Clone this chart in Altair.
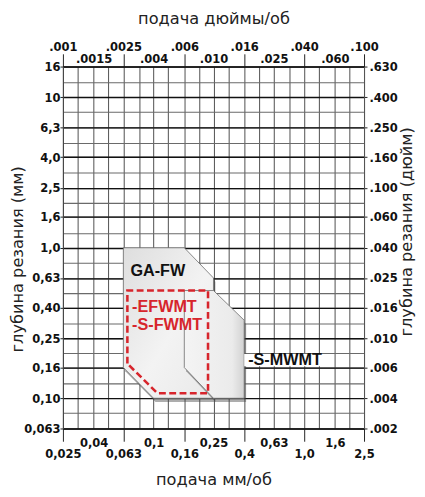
import json
import altair as alt
import pandas as pd

# ---------------- data ----------------
x_mm_values = [0.025, 0.04, 0.063, 0.1, 0.16, 0.25, 0.4, 0.63, 1.0, 1.6, 2.5]
x_mm_labels = ["0,025", "0,04", "0,063", "0,1", "0,16", "0,25", "0,4", "0,63", "1,0", "1,6", "2,5"]
x_in_labels = [".001", ".0015", ".0025", ".004", ".006", ".010", ".016", ".025", ".040", ".060", ".100"]

y_mm_values = [0.063, 0.10, 0.16, 0.25, 0.40, 0.63, 1.0, 1.6, 2.5, 4.0, 6.3, 10, 16]
y_mm_labels = ["0,063", "0,10", "0,16", "0,25", "0,40", "0,63", "1,0", "1,6", "2,5", "4,0", "6,3", "10", "16"]
y_in_labels = [".002", ".004", ".006", ".010", ".016", ".025", ".040", ".060", ".100", ".160", ".250", ".400", ".630"]

grid_x = [0.025, 0.0315, 0.04, 0.05, 0.063, 0.08, 0.1, 0.125, 0.16, 0.2, 0.25,
          0.315, 0.4, 0.5, 0.63, 0.8, 1.0, 1.25, 1.6, 2.0, 2.5]
grid_y = [0.063, 0.08, 0.1, 0.125, 0.16, 0.2, 0.25, 0.315, 0.4, 0.5, 0.63, 0.8,
          1.0, 1.25, 1.6, 2.0, 2.5, 3.15, 4.0, 5.0, 6.3, 8.0, 10, 12.5, 16]

# GA-FW area (feed, upper depth, lower depth)
gafw_feed = [0.063, 0.1, 0.16, 0.25]
gafw_top = [1.0, 1.0, 1.0, 0.63]
gafw_bottom = [0.16, 0.1, 0.1, 0.1]

# -S-MWMT area
mwmt_feed = [0.16, 0.25, 0.4]
mwmt_top = [0.52, 0.52, 0.33]
mwmt_bottom = [0.16, 0.1, 0.1]

# -EFWMT / -S-FWMT dashed outline (closed path)
efw_feed = [0.067, 0.067, 0.23, 0.23, 0.106, 0.067]
efw_depth = [0.17, 0.52, 0.52, 0.108, 0.108, 0.17]

# annotations
labels_text = ["GA-FW", "-EFWMT", "-S-FWMT", "-S-MWMT"]
labels_feed = [0.0702, 0.072, 0.072, 0.425]
labels_depth = [0.70, 0.404, 0.307, 0.178]
labels_color = ["#111111", "#d7252c", "#d7252c", "#111111"]

box_feed = [0.40, 1.31]
box_depth = [0.163, 0.197]

# ---------------- helpers ----------------
XS = alt.Scale(type="log", domain=[0.025, 2.5], nice=False)
YS = alt.Scale(type="log", domain=[0.063, 16], nice=False)

LABEL_FONT = "Liberation Sans Narrow, DejaVu Sans Condensed, Arial Narrow, sans-serif"
TEXT_FONT = "Liberation Sans, Arial, Helvetica, sans-serif"
TITLE_FONT = "DejaVu Sans, Verdana, sans-serif"


def lookup_expr(values, labels):
    return f"{json.dumps(labels)}[indexof({json.dumps(values)}, datum.value)]"


label_style = dict(labelFont=LABEL_FONT, labelFontSize=13, labelFontWeight="bold",
                   labelColor="#111111", labelFlush=False, labelOverlap=False,
                   labelBound=False)
title_style = dict(titleFont=TITLE_FONT, titleFontSize=16.5, titleFontWeight="normal",
                   titleColor="#222222", titleLimit=400)

ticks_df = pd.DataFrame({"x": [x_mm_values[0]] * len(y_mm_values), "y": y_mm_values})


def carrier(xaxis, yaxis):
    return alt.Chart(ticks_df).mark_point(opacity=0).encode(
        x=alt.X("x:Q", scale=XS, axis=xaxis),
        y=alt.Y("y:Q", scale=YS, axis=yaxis),
    )


# grid layer
grid_layer = carrier(
    alt.Axis(orient="bottom", values=grid_x, grid=True, gridColor="#5e5e5e", gridWidth=1.1,
             gridOpacity=1, labels=False, ticks=False, domain=False, title=None),
    alt.Axis(orient="left", values=grid_y, grid=True, gridColor="#6a6a6a", gridWidth=1.1,
             gridOpacity=1, labels=False, ticks=False, domain=False, title=None),
)

# bottom lower row + left axis (major horizontal grid in black)
lay_b = carrier(
    alt.Axis(orient="bottom", values=x_mm_values[::2],
             labelExpr=lookup_expr(x_mm_values[::2], x_mm_labels[::2]),
             tickSize=13, tickColor="#222222", tickWidth=1, labelPadding=17,
             labelBaseline="alphabetic", domain=True, domainColor="#111111", grid=False,
             title="подача мм/об", titleY=57, titleBaseline="alphabetic", **label_style, **title_style),
    alt.Axis(orient="left", values=y_mm_values,
             labelExpr=lookup_expr(y_mm_values, y_mm_labels),
             tickSize=3, tickColor="#222222", labelPadding=0, labelBaseline="middle",
             domain=True, domainColor="#444444", grid=True, gridColor="#111111", gridWidth=1.4,
             gridOpacity=1,
             title="глубина резания (мм)", titleX=-41, titleY=196, titleAngle=270,
             titleBaseline="alphabetic", **label_style, **title_style),
)

# bottom upper row + right axis
lay_c = carrier(
    alt.Axis(orient="bottom", values=x_mm_values[1::2],
             labelExpr=lookup_expr(x_mm_values[1::2], x_mm_labels[1::2]),
             ticks=False, tickSize=0, labelPadding=18, labelBaseline="alphabetic",
             domain=False, grid=False, title=None, **label_style),
    alt.Axis(orient="right", values=y_mm_values,
             labelExpr=lookup_expr(y_mm_values, y_in_labels),
             tickSize=3, tickColor="#222222", labelPadding=2, labelBaseline="middle",
             domain=True, domainColor="#555555", grid=False,
             title="глубина резания (дюйм)", titleX=48, titleY=168, titleAngle=270,
             titleBaseline="alphabetic", **label_style, **title_style),
)

# top upper row
lay_d = carrier(
    alt.Axis(orient="top", values=x_mm_values[::2],
             labelExpr=lookup_expr(x_mm_values[::2], x_in_labels[::2]),
             tickSize=13, tickColor="#222222", labelPadding=3, labelBaseline="alphabetic",
             domain=True, domainColor="#111111", grid=False,
             title="подача дюймы/об", titleY=-44, titleBaseline="alphabetic",
             **label_style, **title_style),
    None,
)

# top lower row
lay_e = carrier(
    alt.Axis(orient="top", values=x_mm_values[1::2],
             labelExpr=lookup_expr(x_mm_values[1::2], x_in_labels[1::2]),
             ticks=False, tickSize=0, labelPadding=4, labelBaseline="alphabetic",
             domain=False, grid=False, title=None, **label_style),
    None,
)

NOAX = None
gafw_df = pd.DataFrame({"f": gafw_feed, "t": gafw_top, "b": gafw_bottom})
mwmt_df = pd.DataFrame({"f": mwmt_feed, "t": mwmt_top, "b": mwmt_bottom})


def shadow(df):
    return alt.Chart(df).transform_calculate(
        fs="datum.f * 1.03", ts="datum.t * 0.945", bs="datum.b * 0.945"
    ).mark_area(color="#4a4a4a", opacity=0.45).encode(
        x=alt.X("fs:Q", scale=XS, axis=NOAX),
        y=alt.Y("ts:Q", scale=YS, axis=NOAX),
        y2="bs:Q",
    )


def body(df, grad):
    return alt.Chart(df).mark_area(fill=grad, stroke="#6a6a6a", strokeWidth=0.8,
                                   opacity=1).encode(
        x=alt.X("f:Q", scale=XS, axis=NOAX),
        y=alt.Y("t:Q", scale=YS, axis=NOAX),
        y2="b:Q",
    )


grad_gafw = alt.LinearGradient(gradient="linear", x1=0, y1=0, x2=1, y2=1,
                               stops=[alt.GradientStop(color="#dedede", offset=0),
                                      alt.GradientStop(color="#f3f3f3", offset=0.55),
                                      alt.GradientStop(color="#e9e9e9", offset=1)])
grad_mwmt = alt.LinearGradient(gradient="linear", x1=0, y1=0, x2=1, y2=0,
                               stops=[alt.GradientStop(color="#f4f4f4", offset=0),
                                      alt.GradientStop(color="#ebebeb", offset=0.8),
                                      alt.GradientStop(color="#d2d2d2", offset=1)])

efw_df = pd.DataFrame({"f": efw_feed, "d": efw_depth, "o": list(range(len(efw_feed)))})
dashed = alt.Chart(efw_df).mark_line(color="#d7252c", strokeWidth=2.6,
                                     strokeDash=[7, 3.5]).encode(
    x=alt.X("f:Q", scale=XS, axis=NOAX),
    y=alt.Y("d:Q", scale=YS, axis=NOAX),
    order="o:O",
)

box_df = pd.DataFrame({"f": [box_feed[0]], "f2": [box_feed[1]],
                       "d": [box_depth[0]], "d2": [box_depth[1]]})
box = alt.Chart(box_df).mark_rect(color="white").encode(
    x=alt.X("f:Q", scale=XS, axis=NOAX), x2="f2:Q",
    y=alt.Y("d:Q", scale=YS, axis=NOAX), y2="d2:Q",
)

lab_df = pd.DataFrame({"t": labels_text, "f": labels_feed, "d": labels_depth, "c": labels_color})
texts = alt.Chart(lab_df).mark_text(font=TEXT_FONT, fontSize=16.5, fontWeight="bold",
                                    align="left", baseline="middle").encode(
    x=alt.X("f:Q", scale=XS, axis=NOAX),
    y=alt.Y("d:Q", scale=YS, axis=NOAX),
    text="t:N",
    color=alt.Color("c:N", scale=None),
)

chart = alt.layer(
    grid_layer, lay_b, lay_c, lay_d, lay_e,
    shadow(gafw_df), body(gafw_df, grad_gafw),
    shadow(mwmt_df), body(mwmt_df, grad_mwmt),
    dashed, box, texts,
).resolve_axis(x="independent", y="independent").properties(
    width=307, height=369,
    autosize=alt.AutoSizeParams(type="none"),
    padding={"left": 56, "top": 55, "right": 54, "bottom": 57},
    background="white",
).configure_view(stroke=None)

chart.save("out.html", embed_options={"renderer": "svg", "actions": False})
